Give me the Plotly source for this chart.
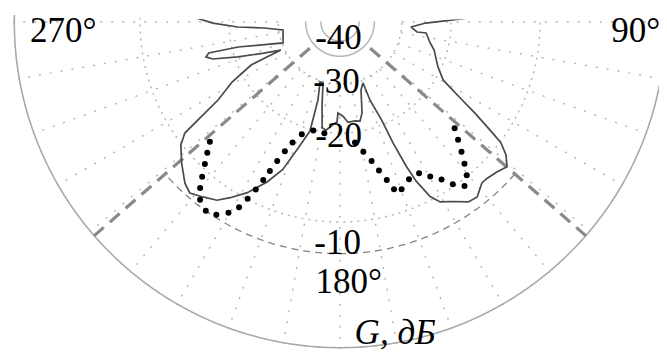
import numpy as np
import plotly.graph_objects as go

# ---------------- data ----------------
# solid measured pattern: azimuth (deg, clockwise from top) and gain (dB)
theta_solid = [272.3, 269.5, 267.2, 265.5, 262.0,
               249.8, 256.2, 256.7, 255.4, 253.8, 251.1, 247.8, 244.6,
               244.2, 240.9, 237.4, 235.6, 234.4, 232.3, 228.3, 223.9, 221.3, 218.1,
               214.6, 212.0, 208.5, 204.5, 201.2, 198.6, 195.4, 195.8, 198.4,
               195.6, 192.2, 189.6, 187.4, 184.4, 181.7, 181.3, 178.2, 175.4, 171.4,
               168.6, 166.4, 162.8, 159.3,
               159.0, 157.0, 156.3, 155.3, 154.4, 152.7, 150.9, 147.8, 144.5, 141.9,
               138.6, 136.8, 133.6, 130.9, 128.7, 126.9, 125.8, 124.1, 122.3, 119.4,
               114.7, 106.6, 103.1, 97.3, 97.4, 94.0, 90.7, 89.0, 88.2, 87.7]
G_solid = [-14.9, -17.7, -21.4, -26.4, -31.2,
           -30.3, -21.0, -16.7, -16.25, -17.0, -20.5, -25.1, -29.0,
           -22.0, -18.2, -15.5, -12.8, -10.8, -9.9, -9.0, -8.1, -7.8, -8.2,
           -8.65, -9.4, -10.5, -12.2, -14.0, -16.7, -19.7, -25.4, -29.6,
           -29.6, -24.6, -20.6, -20.3, -21.2, -21.8, -23.4, -22.8, -21.7, -21.8,
           -21.6, -22.9, -27.6, -29.1,
           -24.8, -20.7, -17.0, -13.9, -12.1, -10.3, -9.5, -9.0, -8.3, -8.2,
           -8.8, -8.8, -8.6, -8.3, -8.95, -9.9, -11.3, -13.4, -15.8, -18.9,
           -20.5, -22.1, -23.1, -24.2, -26.1, -27.6, -24.4, -20.0, -17.6, -14.9]

# dotted (second) pattern, one value per dot
theta_dots = [227.4, 225.4, 223.6, 221.7, 220.1, 218.2, 215.4, 212.7, 210.3, 208.6,
              207.6, 206.7, 205.9, 205.2, 204.3, 203.1, 201.5, 198.8, 193.8, 188.0,
              172.9, 169.8, 167.2, 165.3, 163.5, 162.1, 159.8, 156.3, 152.4, 149.7,
              147.2, 145.2, 142.8, 140.4, 138.7, 136.9, 134.9, 132.8]
G_dots = [-12.1, -11.2, -10.35, -9.4, -8.6, -7.9, -7.5, -7.7, -8.3, -9.1,
          -10.05, -11.1, -12.2, -13.3, -14.6, -16.0, -17.4, -18.9, -19.9, -19.8,
          -18.5, -17.1, -15.75, -14.5, -13.3, -12.2, -11.95, -12.6, -12.7, -11.9,
          -11.1, -10.2, -9.5, -10.1, -11.0, -12.0, -13.1, -14.2]

tick_db = [-40, -30, -20, -10]
tick_text = ["-40", "-30", "-20", "-10"]
inner_rings_db = [-50, -40]
dotted_rings_db = [-30, -20, -10]
beam_edges_deg = [131, 229]
ref_level_db = -7.5
spoke_step_deg = 10


# -------- radial display scale: every 10 dB multiplies the radius by 1.8 --------
def rho(g):
    return 1.8 ** ((np.asarray(g, dtype=float) + 10.0) / 10.0)


R_MAX = 1.635
GRID = "#b4b4b4"
SERIF = "Liberation Serif, Times New Roman, serif"

fig = go.Figure()

# angular spokes (dotted), starting at the -30 dB ring
sp_t, sp_r = [], []
for a in range(0, 360, spoke_step_deg):
    sp_t += [a, a, None]
    sp_r += [float(rho(-30)), R_MAX, None]
fig.add_trace(go.Scatterpolar(theta=sp_t, r=sp_r, mode="lines",
                              line=dict(color=GRID, width=1.4, dash="2px,9px"),
                              hoverinfo="skip", connectgaps=False))

circle_t = np.linspace(0, 360, 721)
for g in dotted_rings_db:
    fig.add_trace(go.Scatterpolar(theta=circle_t, r=np.full(circle_t.size, rho(g)),
                                  mode="lines",
                                  line=dict(color=GRID, width=1.4, dash="2px,5px"),
                                  hoverinfo="skip"))
for g in inner_rings_db:
    fig.add_trace(go.Scatterpolar(theta=circle_t, r=np.full(circle_t.size, rho(g)),
                                  mode="lines", line=dict(color="#b8b8b8", width=1.6),
                                  hoverinfo="skip"))

# outer frame circle
fig.add_trace(go.Scatterpolar(theta=circle_t, r=np.full(circle_t.size, R_MAX * 0.996),
                              mode="lines", line=dict(color="#a9a9a9", width=1.6),
                              hoverinfo="skip"))

# reference level arc between the beam edges (thin dashed)
arc_t = np.linspace(beam_edges_deg[0], beam_edges_deg[1], 200)
fig.add_trace(go.Scatterpolar(theta=arc_t, r=np.full(arc_t.size, rho(ref_level_db)),
                              mode="lines",
                              line=dict(color="#858585", width=1.3, dash="7px,5px"),
                              hoverinfo="skip"))

# beam edge lines (thick dashed)
for a in beam_edges_deg:
    fig.add_trace(go.Scatterpolar(theta=[a, a], r=[0.2, R_MAX], mode="lines",
                                  line=dict(color="#8a8a8a", width=3.2, dash="13px,8px"),
                                  hoverinfo="skip"))

# measured pattern (solid)
fig.add_trace(go.Scatterpolar(theta=theta_solid, r=rho(G_solid), mode="lines",
                              line=dict(color="#4a4a4a", width=1.7)))

# dotted pattern
fig.add_trace(go.Scatterpolar(theta=theta_dots, r=rho(G_dots), mode="markers",
                              marker=dict(color="black", size=6)))

# texts: radial tick labels, angle labels and axis title
lab_theta = [184.6, 183.2, 180.7, 180.6, 267.6, 92.2, 178.1, 170.0]
lab_r = [0.093, 0.313, 0.5825, 1.115, 1.385, 1.48, 1.313, 1.589]
lab_text = tick_text + ["270°", "90°", "180°", "<i>G, дБ</i>"]
fig.add_trace(go.Scatterpolar(theta=lab_theta, r=lab_r, mode="text", text=lab_text,
                              textposition="middle center", cliponaxis=False,
                              textfont=dict(family=SERIF, size=35, color="black"),
                              hoverinfo="skip"))

W, H = 667, 356
PAGE_OFFSET = 8          # the page body margin shifts the figure by this much
R_PX = 327
CX, CY = 340 - PAGE_OFFSET, 22 - PAGE_OFFSET
TOP = 15 - PAGE_OFFSET
delta = float(np.degrees(np.arcsin((CY - TOP) / R_PX)))

fig.update_layout(
    width=W, height=H,
    margin=dict(l=0, r=0, t=0, b=0),
    paper_bgcolor="white",
    showlegend=False,
    polar=dict(
        domain=dict(x=[(CX - R_PX) / W, min(1.0, (CX + R_PX) / W)],
                    y=[(H - (CY + R_PX)) / H, (H - TOP) / H]),
        sector=[180 - delta, 360 + delta],
        bgcolor="white",
        radialaxis=dict(visible=False, range=[0, R_MAX]),
        angularaxis=dict(rotation=90, direction="clockwise",
                         showgrid=False, showticklabels=False, ticks="",
                         showline=False),
    ),
)

fig.write_html("out.html")
